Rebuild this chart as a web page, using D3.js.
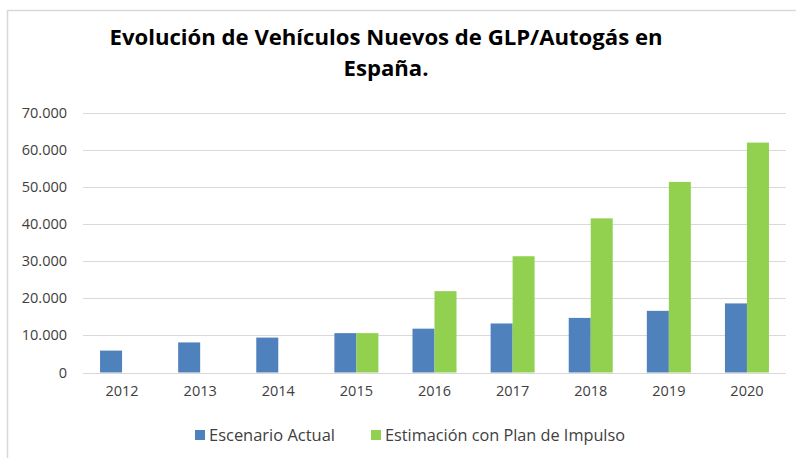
<!DOCTYPE html>
<html><head><meta charset="utf-8">
<script src="https://cdn.jsdelivr.net/npm/d3@7"></script>
<style>
html,body{margin:0;padding:0;background:#fff;}
svg{display:block;}
</style></head>
<body>
<svg id="chart" width="796" height="458"></svg>
<script>
const years = ["2012","2013","2014","2015","2016","2017","2018","2019","2020"];
const seriesNames = ["Escenario Actual","Estimación con Plan de Impulso"];
const escenarioActual = [5900, 8100, 9400, 10600, 11800, 13200, 14700, 16600, 18600];
const estimacionPlan = [null, null, null, 10600, 21900, 31300, 41500, 51300, 61900];
const yTicks = [0,10000,20000,30000,40000,50000,60000,70000];
const colors = ["#4F81BD","#92D050"];
const titleLines = ["Evolución de Vehículos Nuevos de GLP/Autogás en","España."];

(function(){
const svg = d3.select("#chart");

// frame
svg.append("path").attr("d","M7.5,458 V10.5 H796").attr("fill","none").attr("stroke","#d9d9d9").attr("stroke-width",1.5);

const pLeft = 83, pRight = 786, pTop = 112.5, pBottom = 372.5;
const y = d3.scaleLinear().domain([0,70000]).range([pBottom, pTop]);
const x0 = d3.scaleBand().domain(years).range([pLeft, pRight]).padding(0);
const step = x0.bandwidth();
const x1 = d3.scaleBand().domain(seriesNames).range([step/2-22, step/2+22]).padding(0);

// gridlines
svg.append("g").selectAll("line").data(yTicks).join("line")
  .attr("x1", pLeft).attr("x2", pRight)
  .attr("y1", d=>Math.round(y(d))+0.5).attr("y2", d=>Math.round(y(d))+0.5)
  .attr("stroke","#d9d9d9").attr("stroke-width",1);

// y axis labels
const yAxis = d3.axisLeft(y).tickValues(yTicks).tickSize(0).tickPadding(0)
  .tickFormat(d => d===0 ? "0" : d3.format(",")(d).replace(/,/g,"."));
const gy = svg.append("g").attr("transform","translate(67,0)").call(yAxis);
gy.select(".domain").remove();
gy.selectAll("text").attr("font-family","'Open Sans', sans-serif").attr("font-size",14.5).attr("fill","#404040");

// x axis labels
const xAxis = d3.axisBottom(x0).tickSize(0).tickPadding(0);
const gx = svg.append("g").attr("transform",`translate(0,${pBottom+13})`).call(xAxis);
gx.select(".domain").remove();
gx.selectAll("text").attr("font-family","'Open Sans', sans-serif").attr("font-size",14.5).attr("fill","#404040").attr("dy","0.71em");

// bars
const data = years.map((yr,i)=>({year:yr, vals:[escenarioActual[i], estimacionPlan[i]]}));
const groups = svg.append("g").selectAll("g").data(data).join("g")
  .attr("transform", d=>`translate(${x0(d.year)},0)`);
groups.selectAll("rect").data(d=>d.vals.map((v,j)=>({v, s:seriesNames[j], c:colors[j]})).filter(e=>e.v!=null))
  .join("rect")
  .attr("x", e=>x1(e.s)).attr("width", x1.bandwidth())
  .attr("y", e=>y(e.v)).attr("height", e=>pBottom - y(e.v))
  .attr("fill", e=>e.c);

// title
svg.append("g").selectAll("text").data(titleLines).join("text")
  .attr("x", 386).attr("y", (d,i)=>45+i*31)
  .attr("text-anchor","middle")
  .attr("font-family","'Open Sans', sans-serif").attr("font-weight","bold")
  .attr("font-size",21).attr("fill","#000")
  .attr("textLength",(d,i)=> i===0 ? 553 : 85).attr("lengthAdjust","spacingAndGlyphs")
  .text(d=>d);

// legend
const legendX = [195, 371];
const legendW = [126, 240];
const lg = svg.append("g").selectAll("g").data(seriesNames).join("g")
  .attr("transform",(d,i)=>`translate(${legendX[i]},430)`);
lg.append("rect").attr("width",10).attr("height",10).attr("fill",(d,i)=>colors[i]);
lg.append("text").attr("x",14).attr("y",11).attr("font-family","'Open Sans', sans-serif")
  .attr("font-size",16).attr("fill","#404040")
  .attr("textLength",(d,i)=>legendW[i]).attr("lengthAdjust","spacingAndGlyphs")
  .text(d=>d);
})();
</script>
</body></html>
